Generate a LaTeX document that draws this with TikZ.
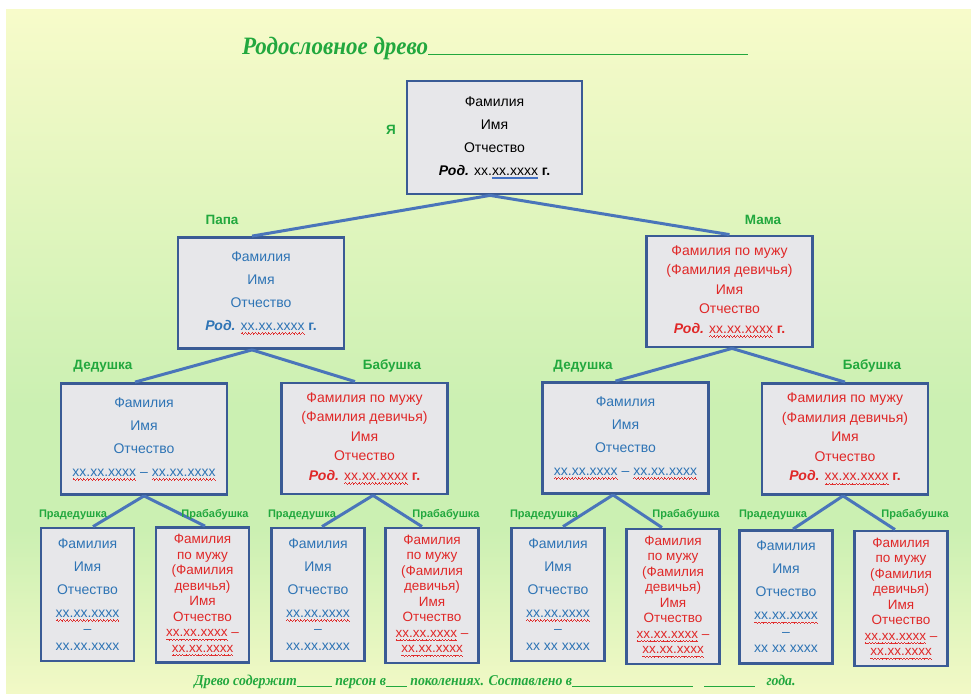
\documentclass[tikz,border=0pt]{standalone}
\usepackage{fontspec}
\setmainfont{Liberation Sans}
\newfontfamily\titlefont[FakeStretch=0.92]{Liberation Serif}

\definecolor{bgTop}{HTML}{F7FBCA}
\definecolor{bgMid}{HTML}{CBF0B2}
\definecolor{bgBot}{HTML}{F2F9C6}
\definecolor{boxFill}{HTML}{E7E7EA}
\definecolor{boxLine}{HTML}{3A5B95}
\definecolor{linkBlue}{HTML}{4A75BA}
\definecolor{txtBlue}{HTML}{2E74B5}
\definecolor{txtRed}{HTML}{E02828}
\definecolor{waveRed}{HTML}{E03030}
\definecolor{gramBlue}{HTML}{4472C4}
\definecolor{tagGreen}{HTML}{22A83E}

\pgfdeclareverticalshading{paper}{100bp}{color(0bp)=(bgBot); color(25bp)=(bgBot);
  color(37bp)=(bgMid); color(46bp)=(bgMid); color(75bp)=(bgTop); color(100bp)=(bgTop)}

% spell-check and grammar marks under the dates
\newcommand\wavebit{\textcolor{waveRed}{\rule[-3.2pt]{0.8pt}{0.6pt}\rule[-2.6pt]{0.8pt}{0.6pt}\rule[-3.2pt]{0.8pt}{0.6pt}\rule[-3.8pt]{0.8pt}{0.6pt}}}
\newcommand\spell[1]{\hbox{\setbox0\hbox{#1}\rlap{\copy0}\xleaders\hbox{\wavebit}\hskip\wd0}}
\newcommand\gram[1]{\hbox{\setbox0\hbox{#1}\rlap{\copy0}\textcolor{gramBlue}{\rlap{\rule[-2.2pt]{\wd0}{0.5pt}}\rule[-3.6pt]{\wd0}{0.5pt}}}}
\newcommand\blank[1]{\rule[-1.5pt]{#1pt}{0.7pt}}
\newcommand\born{\textbf{\textit{Род.}}}

\begin{document}
\begin{tikzpicture}[x=1pt, y=-1pt,
    box/.style={draw=boxLine, fill=boxFill, line width=2.8pt, inner sep=0pt, align=center},
    bigbox/.style={box, minimum width=166pt, minimum height=111pt, font=\fontsize{14}{23}\selectfont},
    wifebox/.style={bigbox, font=\fontsize{14}{19.5}\selectfont},
    smallbox/.style={box, minimum width=93pt, minimum height=133pt, text=txtBlue, font=\fontsize{14}{16.5}\selectfont},
    smallwife/.style={box, minimum width=93pt, minimum height=135pt, text=txtRed, font=\fontsize{13.5}{15.5}\selectfont},
    link/.style={draw=linkBlue, line width=3pt},
    tag/.style={text=tagGreen, inner sep=0pt, font=\bfseries\fontsize{13.5}{13.5}\selectfont},
    smalltag/.style={tag, font=\bfseries\fontsize{11}{11}\selectfont}]
  \useasboundingbox (0,0) rectangle (971,693);
  \fill[white] (0,0) rectangle (971,693);
  \shade[shading=paper] (6,10) rectangle (971,693);

  % title
  \node[anchor=base west, inner sep=0pt, text=tagGreen, font=\titlefont\bfseries\itshape\fontsize{25}{25}\selectfont]
    (title) at (242,55) {Родословное древо};
  \coordinate (titleEnd) at (748,55);
  \draw[tagGreen, line width=1pt] (title.base east) -- (title.base east -| titleEnd);

  % me, parents, grandparents
  \node[bigbox, minimum width=175pt, minimum height=113pt] (me) at (494.5,137.5)
    {Фамилия\\Имя\\Отчество\\\born{} хх.\gram{хх.хххх} \textbf{г.}};
  \node[bigbox, text=txtBlue] (papa) at (261,293)
    {Фамилия\\Имя\\Отчество\\\born{} \spell{хх.хх.хххх} \textbf{г.}};
  \node[wifebox, text=txtRed] (mama) at (729.5,291.5)
    {Фамилия по мужу\\(Фамилия девичья)\\Имя\\Отчество\\\born{} \spell{хх.хх.хххх} \textbf{г.}};
  \node[bigbox, text=txtBlue] (dedP) at (144,439)
    {Фамилия\\Имя\\Отчество\\\spell{хх.хх.хххх} – \spell{хх.хх.хххх}};
  \node[wifebox, text=txtRed] (babP) at (364.5,438.5)
    {Фамилия по мужу\\(Фамилия девичья)\\Имя\\Отчество\\\born{} \spell{хх.хх.хххх} \textbf{г.}};
  \node[bigbox, text=txtBlue] (dedM) at (625.5,438)
    {Фамилия\\Имя\\Отчество\\\spell{хх.хх.хххх} – \spell{хх.хх.хххх}};
  \node[wifebox, text=txtRed] (babM) at (845,439)
    {Фамилия по мужу\\(Фамилия девичья)\\Имя\\Отчество\\\born{} \spell{хх.хх.хххх} \textbf{г.}};

  % great-grandparents
  \node[smallbox] (pdP1) at (87.5,594.5)
    {Фамилия\\[6.5pt]Имя\\[6.5pt]Отчество\\[6.5pt]\spell{хх.хх.хххх}\\–\\хх.хх.хххх};
  \node[smallwife] (pbP1) at (202.5,595)
    {Фамилия\\по мужу\\(Фамилия\\девичья)\\Имя\\Отчество\\\spell{хх.хх.хххх} –\\\spell{хх.хх.хххх}};
  \node[smallbox] (pdP2) at (318,594.5)
    {Фамилия\\[6.5pt]Имя\\[6.5pt]Отчество\\[6.5pt]\spell{хх.хх.хххх}\\–\\хх.хх.хххх};
  \node[smallwife] (pbP2) at (432,595.5)
    {Фамилия\\по мужу\\(Фамилия\\девичья)\\Имя\\Отчество\\\spell{хх.хх.хххх} –\\\spell{хх.хх.хххх}};
  \node[smallbox] (pdM1) at (558,594.5)
    {Фамилия\\[6.5pt]Имя\\[6.5pt]Отчество\\[6.5pt]\spell{хх.хх.хххх}\\–\\хх хх хххх};
  \node[smallwife] (pbM1) at (673,596.5)
    {Фамилия\\по мужу\\(Фамилия\\девичья)\\Имя\\Отчество\\\spell{хх.хх.хххх} –\\\spell{хх.хх.хххх}};
  \node[smallbox] (pdM2) at (786,597)
    {Фамилия\\[6.5pt]Имя\\[6.5pt]Отчество\\[6.5pt]\spell{хх.хх.хххх}\\–\\хх хх хххх};
  \node[smallwife] (pbM2) at (901,598.5)
    {Фамилия\\по мужу\\(Фамилия\\девичья)\\Имя\\Отчество\\\spell{хх.хх.хххх} –\\\spell{хх.хх.хххх}};

  \begin{scope}[link]
    \draw ([xshift=-4.5pt]me.south) to ([xshift=-9pt]papa.north);
    \draw ([xshift=-4.5pt]me.south) to (mama.north);
    \draw ([xshift=-9pt]papa.south) to ([xshift=-9pt]dedP.north);
    \draw ([xshift=-9pt]papa.south) to ([xshift=-9.5pt]babP.north);
    \draw ([xshift=2.5pt]mama.south) to ([xshift=-10pt]dedM.north);
    \draw ([xshift=2.5pt]mama.south) to (babM.north);
    \draw (dedP.south) to ([xshift=5.5pt]pdP1.north);
    \draw (dedP.south) to ([xshift=2.5pt]pbP1.north);
    \draw ([xshift=8.5pt]babP.south) to ([xshift=4pt]pdP2.north);
    \draw ([xshift=8.5pt]babP.south) to ([xshift=-10pt]pbP2.north);
    \draw ([xshift=-12.5pt]dedM.south) to ([xshift=5pt]pdM1.north);
    \draw ([xshift=-12.5pt]dedM.south) to ([xshift=-11pt]pbM1.north);
    \draw ([xshift=-2pt]babM.south) to ([xshift=7pt]pdM2.north);
    \draw ([xshift=-2pt]babM.south) to ([xshift=-6pt]pbM2.north);
  \end{scope}

  % relation labels
  \node[tag] (tMe) at (391,130) {Я};
  \node[tag] (tPapa) at (222,220) {Папа};
  \node[tag] (tMama) at (763,220) {Мама};
  \node[tag] (tDedP) at (103,366) {Дедушка};
  \node[tag] (tBabP) at (392,366) {Бабушка};
  \node[tag] (tDedM) at (583,366) {Дедушка};
  \node[tag] (tBabM) at (872,366) {Бабушка};
  \node[smalltag] (tPdP1) at (73,515) {Прадедушка};
  \node[smalltag] (tPbP1) at (215,515) {Прабабушка};
  \node[smalltag] (tPdP2) at (302,515) {Прадедушка};
  \node[smalltag] (tPbP2) at (446,515) {Прабабушка};
  \node[smalltag] (tPdM1) at (544,515) {Прадедушка};
  \node[smalltag] (tPbM1) at (686,515) {Прабабушка};
  \node[smalltag] (tPdM2) at (773,515) {Прадедушка};
  \node[smalltag] (tPbM2) at (915,515) {Прабабушка};

  % footer
  \node[text=tagGreen, inner sep=0pt, font=\titlefont\bfseries\itshape\fontsize{15}{15}\selectfont] (note) at (495,682)
    {Древо содержит\blank{35} персон в\blank{21} поколениях. Составлено в\blank{121}\hspace{11pt}\blank{51}\hspace{8pt} года.};
\end{tikzpicture}
\end{document}
